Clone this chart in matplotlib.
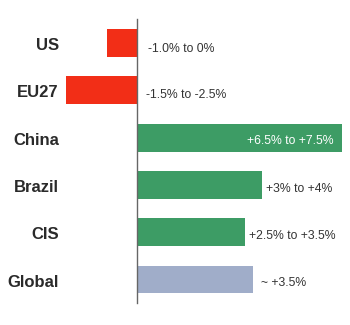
import matplotlib
matplotlib.use("Agg")
import matplotlib.pyplot as plt

categories = ["US", "EU27", "China", "Brazil", "CIS", "Global"]
values = [-1.1, -2.6, 7.5, 4.57, 3.95, 4.24]
labels = ["-1.0% to 0%", "-1.5% to -2.5%", "+6.5% to +7.5%", "+3% to +4%",
          "+2.5% to +3.5%", "~ +3.5%"]
colors = ["#F22E17", "#F22E17", "#3D9C65", "#3D9C65", "#3D9C65", "#A0ADC9"]

plt.rcParams['font.family'] = ['Liberation Sans', 'DejaVu Sans']

fig = plt.figure(figsize=(3.5, 3.25), dpi=100)
ax = fig.add_axes([0, 0, 1, 1])
ax.set_xlim(-5.013, 7.794)
ax.set_ylim(5.962, -0.909)
ax.axis('off')

ys = list(range(len(categories)))
ax.barh(ys, values, height=0.59, color=colors, zorder=2)
ax.plot([0, 0], [-0.507, 5.497], color="#666666", lw=1.0, zorder=3)

px = 1 / 1.389  # pixel -> points at 100 dpi
x_offsets = [11, 9, -8, 4, 4, 8]
val_base = [9.3, 7.8, 6.5, 6.7, 6.7, 6.7]
for y, cat, v, lab, off, vb in zip(ys, categories, values, labels, x_offsets, val_base):
    ax.annotate(cat, (59 / 350, y), xycoords=ax.get_yaxis_transform(),
                xytext=(0, -7.2 * px), textcoords='offset points',
                ha='right', va='baseline', fontsize=12, fontweight='bold', color='#2a2a2a')
    if off < 0:
        ax.annotate(lab, (v, y), xytext=(off * px, -vb * px), textcoords='offset points',
                    ha='right', va='baseline', fontsize=8.8, color='white')
    else:
        x0 = max(v, 0)
        ax.annotate(lab, (x0, y), xytext=(off * px, -vb * px), textcoords='offset points',
                    ha='left', va='baseline', fontsize=8.8, color='#333333')

fig.savefig("out.png", dpi=100)
